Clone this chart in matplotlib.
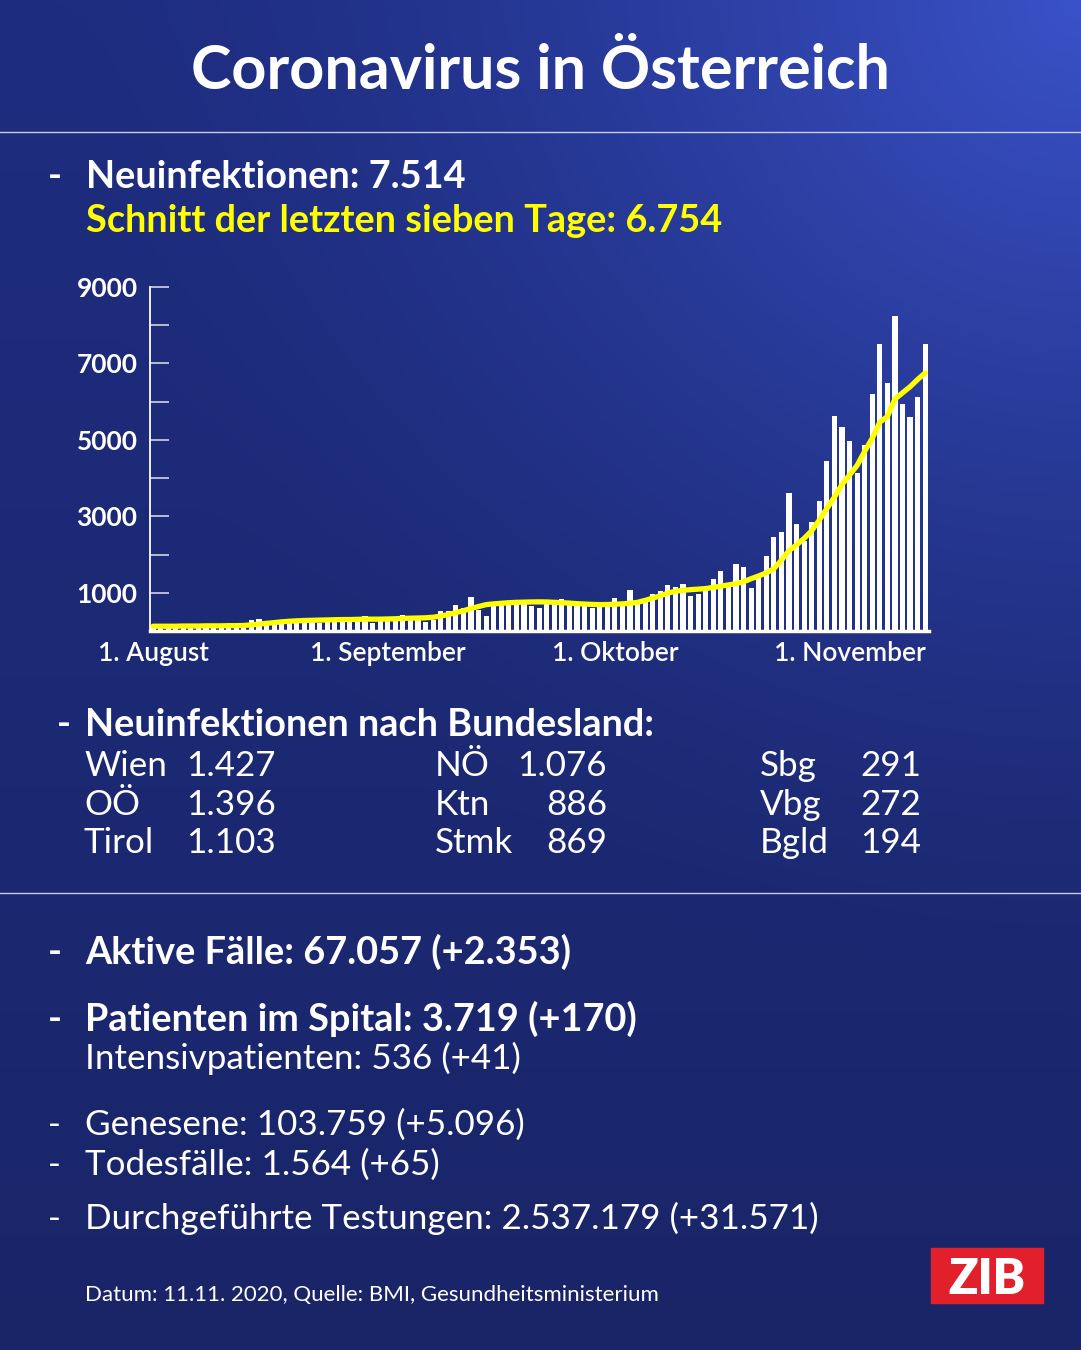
import numpy as np
import matplotlib
matplotlib.use("Agg")
import matplotlib.pyplot as plt
from matplotlib.patches import Rectangle

plt.rcParams['font.family'] = ['Lato', 'DejaVu Sans']

# --- data ---
tage = np.arange(103)  # 1. August .. 11. November
neuinfektionen = [
    # August
    130, 110, 90, 150, 160, 170, 150, 140, 110, 120, 160, 180, 200, 300, 320, 210,
    190, 240, 250, 270, 290, 300, 210, 250, 280, 300, 330, 330, 390, 200, 290,
    # September
    330, 330, 410, 290, 390, 230, 290, 520, 520, 680, 590, 880, 550, 400, 760,
    780, 780, 815, 815, 650, 600, 700, 700, 825, 690, 650, 650, 590, 720, 750,
    # Oktober
    875, 730, 1065, 720, 850, 980, 1039, 1212, 1140, 1238, 918, 978, 1080, 1350,
    1558, 1238, 1758, 1671, 1134, 1498, 1974, 2450, 2580, 3614, 2797, 2364, 2840,
    3403, 4453, 5627, 5349,
    # November
    4961, 4139, 4874, 6211, 7514, 6476, 8241, 5931, 5593, 6121, 7514,
]
schnitt_7_tage = [
    125, 125, 125, 125, 130, 130, 130, 135, 135, 135, 140, 140, 145, 160, 180, 200,
    220, 240, 255, 265, 275, 280, 285, 290, 295, 300, 300, 305, 310, 310, 310,
    315, 320, 330, 335, 340, 345, 360, 390, 430, 480, 530, 590, 640, 690, 710,
    725, 740, 750, 755, 760, 762, 760, 750, 740, 730, 715, 705, 695, 690, 693,
    700, 710, 725, 750, 800, 860, 920, 990, 1040, 1065, 1082, 1095, 1110, 1140,
    1175, 1205, 1240, 1290, 1368, 1440, 1520, 1628, 1850, 2104, 2250, 2420, 2623,
    2900, 3200, 3500, 3830,
    4080, 4330, 4700, 5040, 5463, 5610, 6069, 6230, 6390, 6580, 6754,
]
monat_pos = [0, 31, 61, 92]
monat_labels = ["1. August", "1. September", "1. Oktober", "1. November"]
y_ticks = list(range(1000, 10000, 1000))

bundeslaender = [["Wien", "OÖ", "Tirol"], ["NÖ", "Ktn", "Stmk"], ["Sbg", "Vbg", "Bgld"]]
bl_werte = [["1.427", "1.396", "1.103"], ["1.076", "886", "869"], ["291", "272", "194"]]

W, H = 1081, 1350
fig = plt.figure(figsize=(W / 100, H / 100), dpi=100)

# background gradient
bg = fig.add_axes([0, 0, 1, 1], zorder=-10)
yy, xx = np.mgrid[0:1:270j, 0:1:216j]
d = np.sqrt((1 - xx) ** 2 * 1.0 + (yy * 1.25) ** 2)
t = np.clip(1 - d / 0.95, 0, 1) ** 1.6
top = np.array([0x1e, 0x2d, 0x80]) / 255
bot = np.array([0x1a, 0x25, 0x68]) / 255
light = np.array([0x3a, 0x52, 0xc8]) / 255
base = top[None, None, :] * (1 - yy[..., None]) + bot[None, None, :] * yy[..., None]
img = base * (1 - t[..., None]) + light[None, None, :] * t[..., None]
bg.imshow(img, extent=[0, 1, 0, 1], aspect='auto', origin='upper', interpolation='bicubic')
bg.set_xlim(0, 1)
bg.set_ylim(0, 1)
bg.axis('off')


def px(x, y):
    return x / W, 1 - y / H


def txt(x, y, s, size, weight='normal', color='white', ha='left'):
    fig.text(*px(x, y), s, fontsize=size, fontweight=weight, color=color,
             ha=ha, va='baseline')


BOLD = 27.3
REG = 25.2

# title and separators
txt(540, 89, "Coronavirus in Österreich", 44, 'bold', ha='center')
for yl in (132, 893):
    bg.axhline(1 - yl / H, color='#c8cde6', lw=1.0)

txt(48, 188, "-", BOLD, 'bold')
txt(86, 188, "Neuinfektionen: 7.514", BOLD, 'bold')
txt(86, 232, "Schnitt der letzten sieben Tage: 6.754", BOLD, 'bold', color='#ffff00')

# chart
ax = fig.add_axes([150 / W, (H - 631) / H, 779 / W, 344 / H])
ax.patch.set_alpha(0)
ax.bar(tage, neuinfektionen, width=0.68, color='white', zorder=2)
ax.plot(tage, schnitt_7_tage, color='#ffff00', lw=3.8, solid_capstyle='round', zorder=3)
ax.set_xlim(-0.4, 102.5)
ax.set_ylim(0, 9000)
for s in ('top', 'right'):
    ax.spines[s].set_visible(False)
ax.spines['left'].set_color('white')
ax.spines['left'].set_linewidth(1.3)
ax.spines['bottom'].set_color('white')
ax.spines['bottom'].set_linewidth(2.5)
ax.set_yticks(y_ticks)
ax.set_yticklabels([str(v) if v % 2000 == 1000 else "" for v in y_ticks])
ax.tick_params(axis='y', direction='in', length=14, width=1.1, color='#dfe2f0',
               labelcolor='white', labelsize=19, pad=9)
for lab in ax.get_yticklabels():
    lab.set_fontweight('bold')
ax.set_xticks(monat_pos)
ax.set_xticklabels(monat_labels)
ax.tick_params(axis='x', length=0, labelcolor='white', labelsize=19, pad=7)
for lab in ax.get_xticklabels():
    lab.set_fontweight('semibold')

# Bundesland section
txt(57, 736, "-", BOLD, 'bold')
txt(85, 736, "Neuinfektionen nach Bundesland:", BOLD, 'bold')
row_y = [776, 815, 853]
name_x = [84, 435, 760]
for c in range(3):
    for r in range(3):
        txt(name_x[c], row_y[r], bundeslaender[c][r], REG)
        if c == 0:
            txt(186, row_y[r], bl_werte[c][r], REG)
        elif c == 1:
            txt(607, row_y[r], bl_werte[c][r], REG, ha='right')
        else:
            txt(860, row_y[r], bl_werte[c][r], REG)

# lower block
txt(48, 964, "-", BOLD, 'bold')
txt(85, 964, "Aktive Fälle: 67.057 (+2.353)", BOLD, 'bold')
txt(48, 1031, "-", BOLD, 'bold')
txt(85, 1031, "Patienten im Spital: 3.719 (+170)", BOLD, 'bold')
txt(85, 1069, "Intensivpatienten: 536 (+41)", REG)
txt(48, 1135, "-", REG)
txt(85, 1135, "Genesene: 103.759 (+5.096)", REG)
txt(48, 1175, "-", REG)
txt(85, 1175, "Todesfälle: 1.564 (+65)", REG)
txt(48, 1229, "-", REG)
txt(85, 1229, "Durchgeführte Testungen: 2.537.179 (+31.571)", REG)
txt(85, 1301, "Datum: 11.11. 2020, Quelle: BMI, Gesundheitsministerium", 16)

# ZIB logo
bg.add_patch(Rectangle(px(931, 1303), 112 / W, 55 / H, color='#e1202c', zorder=5))
fig.text(*px(987, 1294), "ZIB", fontsize=35, fontweight='heavy', color='white',
         ha='center', va='baseline', zorder=6)

fig.savefig("out.png", dpi=100)
